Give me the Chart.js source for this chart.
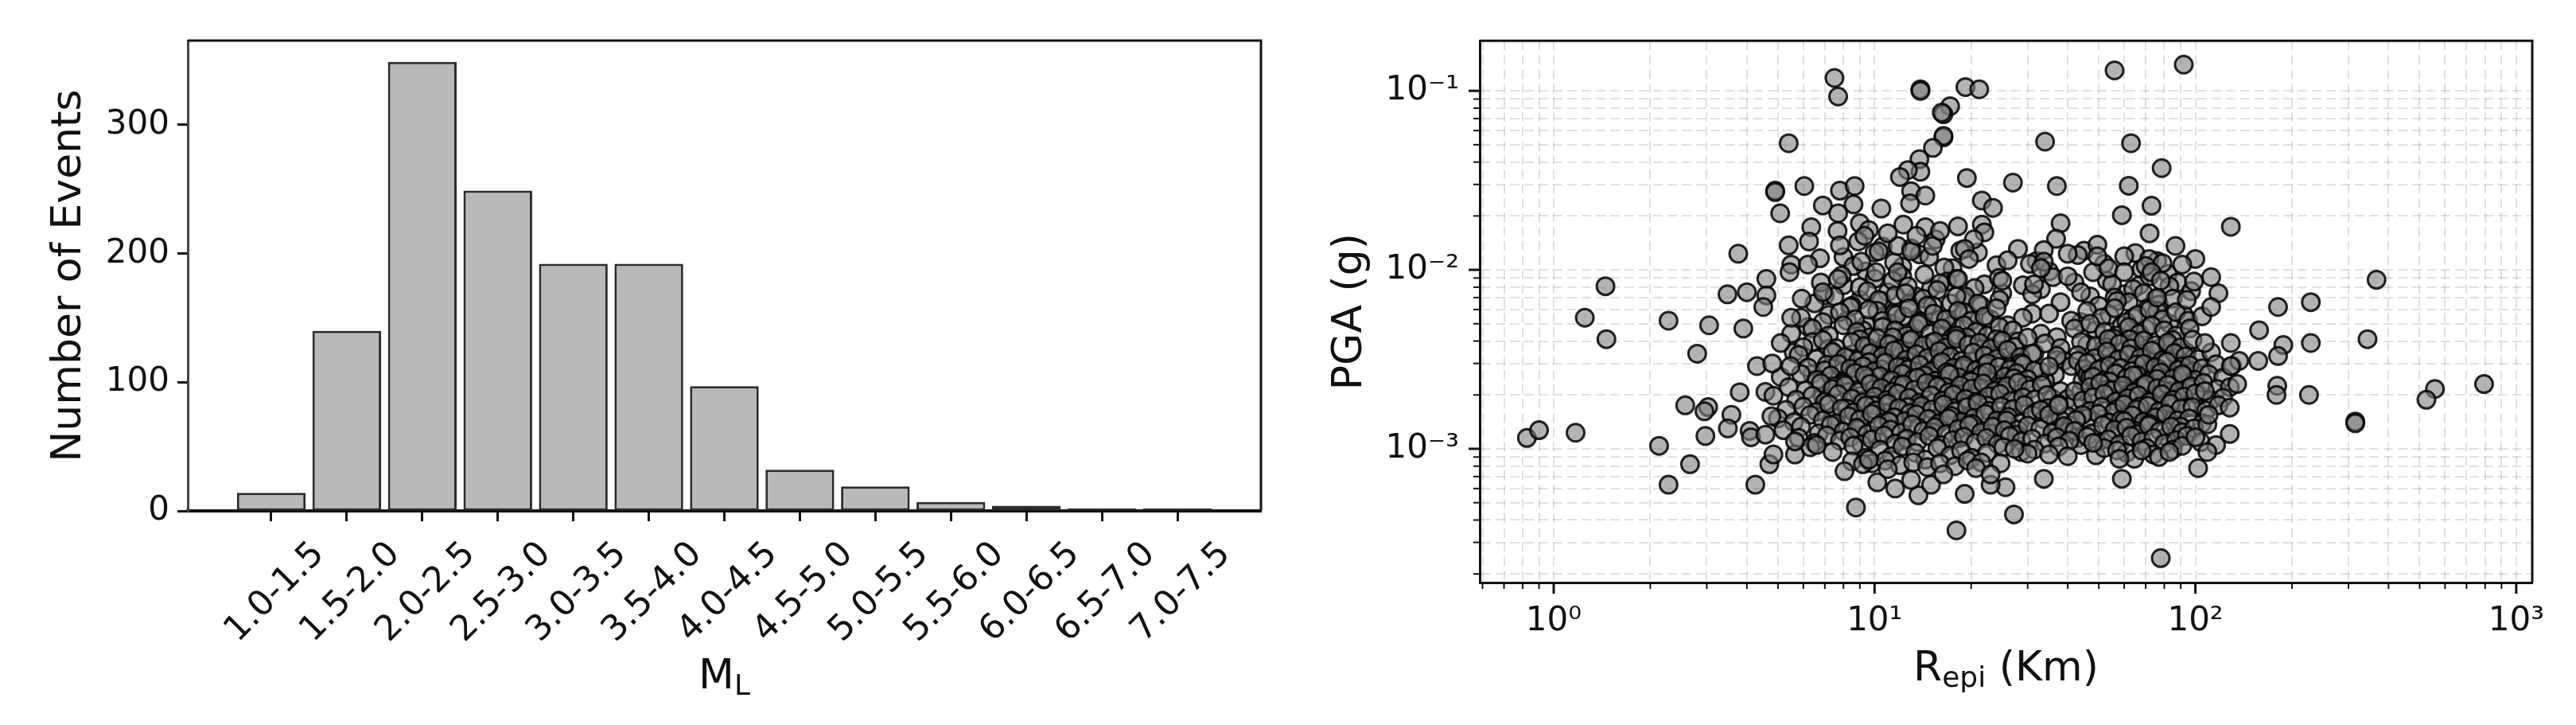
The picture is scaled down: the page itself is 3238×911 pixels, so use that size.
<!DOCTYPE html>
<html><head><meta charset="utf-8">
<script src="https://cdn.jsdelivr.net/npm/chart.js@4"></script>
<style>
html,body{margin:0;padding:0;background:#fff;width:3238px;height:911px;overflow:hidden}
canvas{position:absolute;top:0}
#bar{left:0}#sc{left:1620px}
</style></head><body>
<canvas id="bar" width="1620" height="911"></canvas>
<canvas id="sc" width="1618" height="911"></canvas>
<script>
const magnitudeBins=['1.0-1.5','1.5-2.0','2.0-2.5','2.5-3.0','3.0-3.5','3.5-4.0','4.0-4.5','4.5-5.0','5.0-5.5','5.5-6.0','6.0-6.5','6.5-7.0','7.0-7.5'];
const eventCounts=[14,140,349,249,192,192,97,32,19,7,4,2,2];
const countTicks=[0,100,200,300];
const rDecades=[0,1,2,3];
const pgaDecades=[-1,-2,-3];

// isolated points, read one by one
const rOutliers=[7.5,7.7,5.4,13.9,13.9,19.2,21.2,56,92,17.2,16.4,16.4,34,63,78.5,62,19.4,27,37,73,59,21.6,23.4,129,72,38,18.2,21.6,22,36.8,20.4,49.5,86.7,19.1,33.7,40,49.5,60,100,19.7,33.7,71.8,79,91,70,53.6,60,33,40,112,73,78,99,24.4,25,31.4,18.2,367,118,76,94,181,229,112,158,344,229,188,181,157,137,129,129,107,794,558,525,315,315,226,180,179,135,107,128,110,128,100,109,102,59,33.7,25.6,23,19.1,27.2,18,78,4.9,4.9,6.04,5.08,7.8,8.67,8.6,6.9,7.7,10.5,9,9.6,12.3,14.4,7.67,6.35,6.25,5.4,7.8,8.9,11.8,13,15.2,10.3,6.76,9.1,5.5,5.43,6.2,3.76,11.8,7.7,4.6,1.45,3.48,4,4.6,5.93,6.9,1.25,2.28,3.05,3.9,4.5,5.5,1.46,2.8,4.3,4.8,5.47,3.8,2.57,3.03,2.95,3.58,4.57,4.84,4.77,3.49,4.08,4.12,4.57,2.97,2.13,2.66,2.28,4.25,4.7,4.84,5.65,5.65,6.6,0.825,0.9,1.17,8.06,9.2,9.6,8.75,10.2,11.6,13.7,15,13,11,24.7,20.7,16.4,23,35,40,30,27.3,48,57,58,68,77,83,16.2,16.4,15.2,13.8,13.9,12.7,12,13,14.4,12.9,11,13.5,16,9.3];
const pgaOutliers=[.118,.093,.051,.102,.1,.105,.102,.13,.14,.082,.074,.055,.052,.051,.037,.0295,.0326,.0307,.0294,.0228,.0202,.0244,.0222,.0174,.016,.0182,.0175,.0179,.0162,.0149,.0148,.0138,.0136,.0131,.0129,.0123,.0119,.0119,.0115,.0115,.0111,.0115,.0109,.0107,.0105,.0102,.0097,.0102,.0092,.0091,.0097,.0087,.0086,.009,.0087,.0083,.0089,.0088,.0074,.007,.0068,.0062,.0066,.0062,.0046,.0041,.0039,.0038,.0033,.0031,.0031,.0029,.0039,.0039,.0023,.00216,.00188,.00142,.00139,.002,.00225,.002,.0023,.0021,.0017,.00155,.00121,.00116,.00096,.00078,.00068,.00068,.00061,.00063,.00056,.00043,.00035,.000245,.0277,.0272,.0294,.0207,.0277,.0294,.0232,.0229,.0207,.022,.0182,.0167,.0179,.0173,.0165,.0173,.0144,.0137,.0137,.0144,.0136,.0127,.0136,.0127,.0116,.0111,.0107,.0097,.0107,.0123,.0097,.0089,.0089,.0081,.0073,.0075,.0072,.0069,.0075,.0054,.0052,.0049,.0047,.0062,.0054,.0041,.0034,.0029,.003,.0029,.00207,.00175,.00171,.00162,.00155,.00208,.00198,.00152,.0013,.00126,.00116,.0012,.00118,.00104,.00082,.00063,.00063,.00082,.00093,.00093,.0011,.00105,.00115,.00127,.00123,.00075,.00082,.00087,.00047,.00065,.0006,.00055,.00063,.00067,.00077,.00083,.00078,.00072,.00072,.00093,.00091,.00094,.001,.00108,.00098,.00088,.00098,.0009,.00096,.0755,.056,.048,.0415,.0353,.0361,.033,.0275,.026,.0235,.016,.0155,.0165,.0155];

// dense cloud, read band by band (rising PGA)
const rBandA=[6.3,7.4,8.6,9.4,10.4,11.3,12.2,13.4,14.4,15.7,17.2,18.6,20.1,22.4,25.2,28.6,31.5,37.5,49,52,61,64.5,70.5,74,85,91];
const pgaBandA=[.00102,.00096,.00104,.00089,.00099,.00091,.00103,.00095,.00087,.00101,.00092,.00098,.00089,.00095,.00102,.00096,.00099,.00103,.00092,.00101,.00095,.00088,.00101,.00093,.00099,.00104];
const rBandB=[5.8,6.5,7.1,7.8,8.4,9.1,9.8,10.7,11.6,12.6,13.6,14.8,16.1,17.5,19,20.6,22.3,24.2,26.4,28.7,31,34,37,40.5,46,49.5,53.5,58,63,68,74,80,87,94,104,116];
const pgaBandB=[.00115,.00108,.00119,.00111,.00116,.00106,.00113,.00119,.00107,.00114,.00109,.00118,.00105,.00112,.00117,.00108,.00115,.00106,.00118,.0011,.00114,.00107,.00116,.00111,.00117,.00108,.00113,.00106,.00118,.0011,.00115,.00107,.00112,.00118,.00109,.00105];
const rBandC=[5.2,5.9,6.7,7.3,8,8.8,9.5,10.3,11.2,12.1,13.1,14.2,15.4,16.7,18.2,19.7,21.5,23.3,25.4,27.7,30,32.8,35.8,39,42,47.5,51.5,56,61,66,71.5,77.5,84,91,99,109];
const pgaBandC=[.00127,.00133,.00122,.00136,.00125,.00131,.00121,.00135,.00128,.00123,.00137,.00126,.00132,.00121,.00129,.00136,.00124,.00133,.00127,.0012,.00135,.00129,.00123,.00134,.00126,.00122,.00136,.00128,.00131,.00121,.00135,.00126,.00133,.00124,.0013,.00137];
const rBandD=[5,5.6,6.3,6.9,7.6,8.3,9,9.8,10.6,11.5,12.4,13.5,14.7,15.9,17.3,18.7,20.4,22.1,24,26.1,28.4,31,33.7,36.7,40,46,49.8,54,58.5,63.5,69,75,81,88,95.5,105];
const pgaBandD=[.00148,.00141,.00155,.00144,.00139,.00152,.00146,.00157,.0014,.0015,.00143,.00156,.00147,.00139,.00153,.00142,.00149,.00157,.00144,.00151,.00139,.00155,.00146,.00141,.00152,.00148,.00157,.0014,.00145,.00154,.00142,.0015,.00156,.00144,.00148,.00139];
const rBandE=[5.3,6,6.6,7.2,7.9,8.6,9.4,10.1,11,11.9,12.9,14,15.1,16.4,17.8,19.4,21,22.8,24.8,27,29.3,32,34.8,37.5,47,51,55.5,60,65.5,71,77,83.5,90,98,108,118];
const pgaBandE=[.00165,.00172,.00161,.00178,.00168,.0016,.00175,.00164,.00179,.00169,.00159,.00174,.00166,.00177,.00162,.00171,.0018,.00163,.00173,.00167,.00176,.00161,.00169,.00178,.00163,.00172,.0016,.00177,.00166,.00174,.00162,.00179,.00168,.00171,.00164,.00175];
const rBandF=[5.7,6.4,7,7.7,8.5,9.2,10,10.9,11.8,12.8,13.8,15,16.3,17.6,19.2,20.8,22.6,24.6,26.7,29,31.6,34.5,44.5,48,52,56.5,61.5,66.5,72,78.5,85,92,100,112,122];
const pgaBandF=[.00188,.00198,.00183,.00202,.00191,.00182,.00196,.00187,.00204,.00193,.00181,.00199,.00186,.00201,.0019,.00184,.00197,.00203,.00185,.00194,.00189,.002,.00186,.00195,.00203,.00184,.00192,.00199,.00183,.00202,.00188,.00196,.00204,.00187,.00193];
const rBandG=[5.4,6.1,6.8,7.4,8.1,8.9,9.7,10.5,11.4,12.3,13.3,14.5,15.7,17,18.5,20.1,21.8,23.7,25.8,28,30.5,33.2,42,47,50.5,55,59.5,64.5,70,76,82,89,97,106,117,128];
const pgaBandG=[.00221,.00212,.00233,.00216,.00227,.00208,.00231,.00219,.00209,.00229,.00214,.00234,.00223,.00207,.00226,.00217,.00232,.00211,.00224,.00235,.00215,.00228,.0021,.00222,.00233,.00213,.00226,.00207,.0023,.00218,.00228,.00211,.00224,.00234,.00216,.00221];
const rBandH=[5.1,5.9,6.6,7.3,8,8.7,9.5,10.4,11.3,12.2,13.2,14.3,15.5,16.8,18.3,19.9,21.5,23.4,25.5,27.7,30,48,52,56.5,61,66,72,78,85,92,100,110,122];
const pgaBandH=[.00252,.00262,.00243,.00257,.00238,.00266,.00248,.00255,.00237,.00263,.00246,.00258,.0024,.00268,.00251,.00242,.0026,.00236,.00254,.00265,.00245,.00253,.00241,.00264,.00249,.00258,.00239,.00267,.00247,.00256,.00243,.00261,.0025];
const rBandI=[6.2,7,7.7,8.4,9.2,10,10.8,11.8,12.7,13.8,15,16.2,17.6,19,20.7,22.5,24.4,26.5,29,31.5,35,46,50,54,58.5,63.5,69,75,81.5,88.5,96,105,116,130];
const pgaBandI=[.00285,.00275,.00298,.00281,.0029,.00272,.00303,.00287,.00278,.00295,.00271,.00306,.00284,.00293,.00274,.00301,.00288,.00279,.00296,.00273,.00289,.00302,.00277,.00292,.00283,.00272,.00299,.00286,.00307,.00276,.00294,.00282,.00297,.00291];
const rBandJ=[5.8,6.6,7.4,8.1,8.9,9.7,10.6,11.5,12.5,13.5,14.6,15.9,17.2,18.7,20.3,22,24,26,28.5,31,37,43,48.5,53,57.5,62,67.5,73,79,86,93,102,112];
const pgaBandJ=[.00335,.00318,.00348,.00325,.00312,.00342,.0033,.00355,.00315,.00338,.00322,.00352,.00328,.00311,.00345,.00332,.00319,.00358,.00326,.00341,.00314,.00334,.00321,.0035,.00316,.00337,.00324,.00354,.00313,.00343,.00329,.00317,.00346];
const rBandK=[5.1,6,6.9,7.6,8.5,9.3,10.2,11.1,12,13,14.2,15.4,16.6,18,19.6,21.2,23,25,27.3,30,34,38,44,49,53.5,58,63,69,75,82,90,98];
const pgaBandK=[.0039,.0037,.00405,.00365,.00395,.00375,.00415,.00385,.00362,.00408,.00378,.00398,.00368,.00412,.00382,.00392,.00363,.00402,.00372,.00418,.00388,.00366,.00396,.00376,.00411,.00386,.00364,.00403,.00379,.00393,.00369,.00407];
const rBandL=[5.5,6.4,7.2,8,8.8,9.7,10.6,11.6,12.6,13.7,14.9,16.2,17.5,19,20.7,22.5,24.5,27,33,37,42,47,52,57,62,67,73,80,87,96];
const pgaBandL=[.0044,.0047,.0043,.0049,.0045,.0042,.0048,.0046,.0043,.005,.0044,.0047,.0042,.0049,.0045,.0043,.0048,.0046,.0044,.0042,.0047,.005,.0045,.0043,.0048,.0044,.0049,.0046,.0043,.0047];
const rBandM=[5.9,6.9,7.8,8.7,9.6,10.6,11.7,12.8,14,15.3,16.7,18.2,20,22,24,29,35,41,46,51,56,61,66,72,79,87,95,105];
const pgaBandM=[.0054,.0051,.0058,.0053,.006,.0052,.0056,.0061,.0051,.0057,.0053,.0059,.0052,.0055,.0061,.0054,.0057,.0052,.0059,.0054,.0061,.0051,.0056,.006,.0053,.0058,.0052,.0055];
const rBandN=[6.5,7.5,8.5,9.5,10.5,11.6,12.8,14.2,15.7,17.3,19.2,21.5,24.5,31,38,44,50,56,62,69,77,85];
const pgaBandN=[.0065,.0071,.0063,.0076,.0067,.0072,.0064,.0069,.0077,.0065,.0071,.0063,.0068,.0073,.0066,.0075,.0063,.007,.0066,.0074,.0064,.0069];
const rBandO=[6.8,7.9,9,10.1,11.4,12.7,14.3,16,18,20.5,29,36,42,48,55,64,72,83];
const pgaBandO=[.0085,.0093,.008,.0097,.0087,.0081,.0094,.0084,.0089,.0079,.0082,.0091,.0085,.0097,.0083,.0078,.0092,.0081];
const rBandP=[8.6,10,11.5,13,14.8,16.5,18.5,26,30.5,43];
const pgaBandP=[.0105,.0125,.011,.0132,.0118,.0103,.0128,.0113,.0108,.0121];
const rBandQ=[36.5,38,41,43,44.5,33,35,37.5,40,42.5,44];
const pgaBandQ=[.00125,.00145,.00135,.00115,.00155,.00165,.00155,.00175,.00125,.00145,.00105];
const rBandR=[7.5,8.2,9,9.9,10.8,11.7,12.7,13.9,15,16.2,17.6,19.1,20.7,22.5,24.5,26.6,52,57,62,67,73,79,86,94];
const pgaBandR=[.00152,.00168,.00145,.00175,.00158,.00149,.00171,.00162,.00143,.00155,.00169,.00147,.00159,.00174,.00151,.00165,.00148,.00167,.00155,.00172,.00146,.00161,.00152,.0017];
const rBandS=[6.9,7.5,8.3,9.1,10,10.9,11.9,13,14.1,15.3,16.6,18,19.6,21.3,23.2,25.2,27.4,29.8,49,53,58,63,68,74,80,87,95,103];
const pgaBandS=[.00195,.00224,.00208,.00187,.00216,.002,.00228,.00192,.0021,.00182,.00222,.00204,.00189,.00218,.00198,.00212,.00186,.00226,.00194,.00215,.00188,.00207,.00223,.00196,.00211,.00185,.00219,.002];
const rBandT=[6.4,7.1,8,8.8,9.6,10.5,11.5,12.4,13.5,14.7,15.9,17.4,18.9,20.5,22.2,24.2,26.3,28.6,47,51.5,56,60.5,65.5,71,77,83.5,91,99];
const pgaBandT=[.00262,.00295,.00272,.00245,.00305,.00278,.00255,.00288,.00268,.00242,.00298,.00265,.00282,.00248,.00292,.00258,.00275,.00302,.00252,.00285,.00269,.00243,.00296,.00264,.00279,.00256,.00289,.00271];
const rBandU=[5.6,6.4,7.2,8.2,9,9.9,10.9,11.8,12.9,14,15.2,16.4,17.9,19.4,21,22.9,25,28,31.5,46,51,55.5,60,65,71,78,85,94];
const pgaBandU=[.00345,.00395,.00362,.00332,.0041,.00352,.00378,.00325,.00402,.00358,.00338,.00388,.00348,.0042,.00328,.00372,.00355,.00398,.00342,.00382,.00335,.00415,.00352,.00392,.00328,.00368,.00405,.00345];
const rBandV=[6.2,7.2,8.2,9.2,10.2,11.3,12.3,13.4,14.6,16,17.4,19,21,23,26,31,44,49,54,59,64,70,76,83,92];
const pgaBandV=[.0048,.0056,.0052,.0046,.0059,.005,.0055,.0047,.0063,.0053,.0049,.0058,.0046,.0053,.0049,.0057,.0051,.0046,.0056,.0049,.0054,.0047,.0059,.005,.0056];
const rBandW=[7,8,9,10,11,12.2,13.5,15,16.8,19,22,25,33,47,53,60,67,75,88,97];
const pgaBandW=[.0072,.0082,.0068,.0089,.0075,.0092,.0071,.0079,.0086,.0069,.0083,.0074,.0078,.0071,.0087,.0073,.0082,.0069,.0085,.0076];
const rBandX=[8,9.4,10.6,12.2,13.8,15.5,17.5,21,24,28,32,35,45,52,65,68,76,82];
const pgaBandX=[.0118,.0098,.0135,.0104,.0122,.0148,.0102,.0125,.0106,.0131,.0112,.0098,.0128,.0108,.0124,.0101,.0112,.0095];
const rBandY=[8.5,9.8,10.8,12,13.2,14.6,16,17.8,19.5,21.5];
const pgaBandY=[.00085,.00083,.00086,.00081,.00084,.00079,.00083,.0008,.00086,.00084];
const rBandZ=[36,38,40,42,44,39,41,43,45,37,36.5,34,33,44.5,46];
const pgaBandZ=[.0019,.0021,.0019,.0018,.0021,.0031,.0029,.0031,.0028,.0033,.0026,.0024,.0027,.0024,.0026];
const rCoreLow=[8.9,10.2,11.1,12.3,13.7,15.2,17,18.4,20.2,23,25.8,28,55,60,65,72,81,90];
const pgaCoreLow=[.00128,.00118,.00142,.00112,.00131,.00124,.00148,.00115,.00138,.00122,.00144,.00128,.00118,.00143,.00126,.00138,.00117,.00133];
const rCoreMid=[8,9.3,10.2,11.3,12.4,13.6,15.4,17.1,18.4,20,22.4,24.7,27.2,54,59,64,70,76,83,91];
const pgaCoreMid=[.00232,.00258,.00205,.00242,.00218,.0025,.00228,.00262,.00214,.00238,.00268,.00222,.00248,.00238,.00212,.00258,.00228,.00246,.0021,.00262];
const rCoreHigh=[8.6,9.5,10.7,11.4,12.7,14,15,16.7,18,20,21.7,24,26.8,52.5,58,62.5,68,73.5,82,88];
const pgaCoreHigh=[.0034,.0037,.0031,.0042,.0035,.0029,.0039,.0033,.0043,.0031,.0036,.0041,.003,.0037,.0032,.0041,.0034,.0029,.0038,.0032];
const rCoreTop=[8.4,9.4,10.3,11.5,12.5,13.8,15.2,16.5,18,19.6,21,57,64,71];
const pgaCoreTop=[.0062,.0049,.0068,.0057,.0074,.0052,.0063,.0047,.0071,.0056,.0065,.0067,.0046,.0061];

const zip=(xs,ys)=>xs.slice(0,ys.length).map((x,i)=>({x,y:ys[i]}));
const scatterPoints=[
 ...zip(rBandX,pgaBandX),...zip(rBandP,pgaBandP),...zip(rBandW,pgaBandW),...zip(rBandO,pgaBandO),...zip(rBandN,pgaBandN),...zip(rCoreTop,pgaCoreTop),...zip(rBandV,pgaBandV),...zip(rBandM,pgaBandM),
 ...zip(rBandL,pgaBandL),...zip(rBandU,pgaBandU),...zip(rCoreHigh,pgaCoreHigh),...zip(rBandK,pgaBandK),...zip(rBandJ,pgaBandJ),...zip(rBandZ,pgaBandZ),...zip(rBandT,pgaBandT),...zip(rBandI,pgaBandI),
 ...zip(rBandH,pgaBandH),...zip(rCoreMid,pgaCoreMid),...zip(rBandS,pgaBandS),...zip(rBandG,pgaBandG),...zip(rBandF,pgaBandF),...zip(rBandR,pgaBandR),...zip(rBandE,pgaBandE),
 ...zip(rBandD,pgaBandD),...zip(rCoreLow,pgaCoreLow),...zip(rBandQ,pgaBandQ),...zip(rBandC,pgaBandC),...zip(rBandB,pgaBandB),...zip(rBandA,pgaBandA),...zip(rBandY,pgaBandY),
 ...zip(rOutliers,pgaOutliers)];

const FONT='"DejaVu Sans"';
const SUP={'0':'⁰','1':'¹','2':'²','3':'³','-':'⁻'};
const power=n=>'10'+String(n).split('').map(c=>SUP[c]).join('');
const mult=[1,2,3,4,5,6,7,8,9];
const logTicks=(decades,lo,hi)=>{const a=[];for(const d of decades)for(const m of mult){const v=m*Math.pow(10,d);if(v>=lo&&v<=hi)a.push({value:v,major:m===1});}return a;};
const R_MIN=0.588,R_MAX=1122,G_MIN=1.79e-4,G_MAX=0.1905;

const framePlugin={id:'frame',afterDatasetsDraw(c){const a=c.chartArea,x=c.ctx;x.save();x.strokeStyle='#111';x.lineWidth=3;
 x.beginPath();x.moveTo(a.left,a.top);x.lineTo(a.right,a.top);x.lineTo(a.right,a.bottom);x.stroke();x.restore();}};
const mixedTitle={id:'mixedTitle',afterDraw(c,_,o){const x=c.ctx,a=c.chartArea;x.save();x.fillStyle='#111';x.textBaseline='alphabetic';
 let w=0;for(const s of o.parts){x.font=s.size+'px '+FONT;w+=x.measureText(s.text).width;}
 let px=(a.left+a.right)/2-w/2;for(const s of o.parts){x.font=s.size+'px '+FONT;x.fillText(s.text,px,o.y+(s.dy||0));px+=x.measureText(s.text).width;}x.restore();}};
const logMarks={id:'logMarks',afterDatasetsDraw(c){const x=c.ctx,a=c.chartArea;x.save();x.strokeStyle='#111';
 for(const t of c.scales.x.ticks){const p=c.scales.x.getPixelForValue(t.value);x.lineWidth=t.major?3:2;x.beginPath();x.moveTo(p,a.bottom);x.lineTo(p,a.bottom+(t.major?14:8));x.stroke();}
 for(const t of c.scales.y.ticks){const p=c.scales.y.getPixelForValue(t.value);x.lineWidth=t.major?3:2;x.beginPath();x.moveTo(a.left,p);x.lineTo(a.left-(t.major?14:8),p);x.stroke();}
 x.restore();}};

new Chart(document.getElementById('bar'),{
 type:'bar',
 data:{datasets:[{data:eventCounts.map((v,i)=>({x:i,y:v})),backgroundColor:'#b9b9b9',borderColor:'#2b2b2b',borderWidth:3,borderSkipped:false,categoryPercentage:1,barPercentage:0.91}]},
 plugins:[framePlugin,mixedTitle],
 options:{responsive:false,animation:false,devicePixelRatio:1,
  layout:{padding:{top:51,right:35,left:0,bottom:0}},
  plugins:{legend:{display:false},tooltip:{enabled:false},
   mixedTitle:{y:865,parts:[{text:'M',size:52},{text:'L',size:36,dy:8}]}},
  scales:{
   x:{type:'linear',min:-1.106,max:13.106,offset:false,
    afterBuildTicks(s){s.ticks=magnitudeBins.map((_,i)=>({value:i}));},
    afterFit(s){s.height=269;},
    grid:{offset:false,drawOnChartArea:false,color:'#111',tickLength:13,tickWidth:3,tickColor:'#111'},
    border:{color:'#111',width:4},
    ticks:{autoSkip:false,minRotation:45,maxRotation:45,labelOffset:60,padding:16,color:'#111',font:{family:FONT,size:44},callback:v=>magnitudeBins[v]}},
   y:{min:0,max:365.5,
    afterBuildTicks(s){s.ticks=countTicks.map(v=>({value:v}));},
    afterFit(s){s.width=236;},
    grid:{drawOnChartArea:false,color:'#111',tickLength:13,tickWidth:3,tickColor:'#111'},
    border:{color:'#444',width:3},
    ticks:{padding:10,color:'#111',font:{family:FONT,size:42}},
    title:{display:true,text:'Number of Events',color:'#111',font:{family:FONT,size:52},padding:{top:56,bottom:10}}}
  }}});

new Chart(document.getElementById('sc'),{
 type:'scatter',
 data:{datasets:[{data:scatterPoints,backgroundColor:'rgba(128,128,128,0.6)',borderColor:'rgba(0,0,0,0.85)',borderWidth:3,pointRadius:11}]},
 plugins:[framePlugin,mixedTitle,logMarks],
 options:{responsive:false,animation:false,devicePixelRatio:1,
  layout:{padding:{top:51,right:55,left:0,bottom:0}},
  plugins:{legend:{display:false},tooltip:{enabled:false},
   mixedTitle:{y:855,parts:[{text:'R',size:52},{text:'epi',size:36,dy:8},{text:' (Km)',size:52}]}},
  scales:{
   x:{type:'logarithmic',min:R_MIN,max:R_MAX,
    afterBuildTicks(s){s.ticks=logTicks([-1,...rDecades],R_MIN,R_MAX);},
    afterFit(s){s.height=179;},
    grid:{drawTicks:false,color:'rgba(120,120,120,0.22)',lineWidth:2},
    border:{color:'#111',width:3,dash:[12,6]},
    ticks:{autoSkip:false,maxRotation:0,minRotation:0,padding:24,color:'#111',font:{family:FONT,size:42},
     callback(v){const l=Math.log10(v);return Math.abs(l-Math.round(l))<1e-9?power(Math.round(l)):'';}}},
   y:{type:'logarithmic',min:G_MIN,max:G_MAX,
    afterBuildTicks(s){s.ticks=logTicks([...pgaDecades,-4],G_MIN,G_MAX);},
    afterFit(s){s.width=240;},
    grid:{drawTicks:false,color:'rgba(120,120,120,0.22)',lineWidth:2},
    border:{color:'#111',width:3,dash:[12,6]},
    ticks:{autoSkip:false,padding:26,color:'#111',font:{family:FONT,size:42},
     callback(v){const l=Math.log10(v);return Math.abs(l-Math.round(l))<1e-9?power(Math.round(l)):'';}},
    title:{display:true,text:'PGA (g)',color:'#111',font:{family:FONT,size:52},padding:{top:46,bottom:10}}}
  }}});
</script></body></html>
